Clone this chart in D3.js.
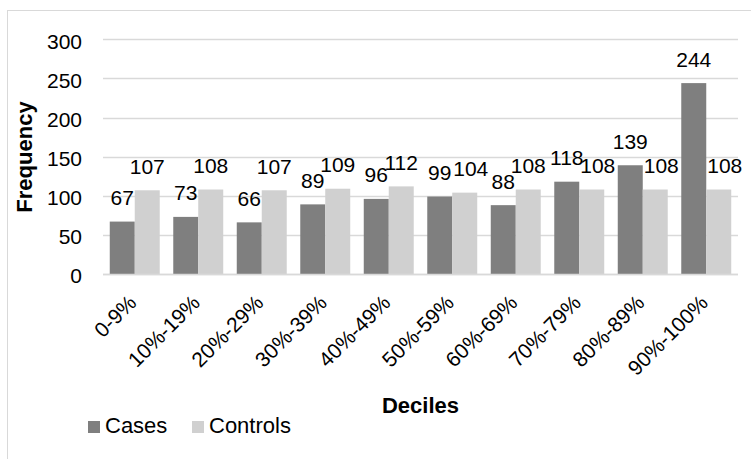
<!DOCTYPE html>
<html>
<head>
<meta charset="utf-8">
<script src="https://cdn.jsdelivr.net/npm/d3@7"></script>
<style>
	body { margin: 0; background: #fff; }
	svg text { font-family: "Liberation Sans", Arial, sans-serif; fill: #000; }
</style>
</head>
<body>
<svg id="chart" width="751" height="459"></svg>
<script>
var deciles = ["0-9%", "10%-19%", "20%-29%", "30%-39%", "40%-49%", "50%-59%", "60%-69%", "70%-79%", "80%-89%", "90%-100%"];
var cases = [67, 73, 66, 89, 96, 99, 88, 118, 139, 244];
var controls = [107, 108, 107, 109, 112, 104, 108, 108, 108, 108];
var seriesNames = ["Cases", "Controls"];
var yTicks = [0, 50, 100, 150, 200, 250, 300];

var colors = { Cases: "#7f7f7f", Controls: "#d0d0d0" };

var svg = d3.select("#chart");

// outer chart border (runs off the right and bottom edges)
svg.append("rect")
	.attr("x", 7.5).attr("y", 10.5)
	.attr("width", 780).attr("height", 480)
	.style("fill", "#fff")
	.style("stroke", "#d9d9d9")
	.style("stroke-width", 1);

var plotLeft = 103, plotRight = 738, plotTop = 39.3, plotBottom = 274;

var x = d3.scaleBand().domain(deciles).range([plotLeft, plotRight]).paddingInner(0.213).paddingOuter(0.1065);
var inner = d3.scaleBand().domain(seriesNames).range([0, x.bandwidth()]);
var y = d3.scaleLinear().domain([0, 300]).range([plotBottom, plotTop]);

// gridlines
svg.append("g").selectAll("line")
	.data(yTicks)
	.enter()
	.append("line")
	.attr("x1", plotLeft).attr("x2", plotRight)
	.attr("y1", d => Math.round(y(d)) + 0.5).attr("y2", d => Math.round(y(d)) + 0.5)
	.style("stroke", "#d9d9d9")
	.style("stroke-width", 1.5);

// y axis labels
var yAxis = d3.axisLeft(y).tickValues(yTicks).tickSize(0).tickPadding(0);
var gy = svg.append("g").attr("transform", `translate(${ 82 },0)`).call(yAxis);
gy.select(".domain").remove();
gy.selectAll("text")
	.attr("dy", "0.42em")
	.style("font-size", "21px")
	.style("font-family", "Liberation Sans, Arial, sans-serif")
	.style("fill", "#000");

// bars
var rows = deciles.map((d, i) => ({ decile: d, Cases: cases[i], Controls: controls[i] }));

var groups = svg.append("g").selectAll(".grp")
	.data(rows)
	.enter()
	.append("g")
	.attr("transform", d => `translate(${ x(d.decile) },0)`);

groups.selectAll("rect")
	.data(d => seriesNames.map(s => ({ key: s, value: d[s] })))
	.enter()
	.append("rect")
	.attr("x", d => inner(d.key))
	.attr("y", d => y(d.value))
	.attr("width", inner.bandwidth())
	.attr("height", d => plotBottom - y(d.value))
	.style("fill", d => colors[d.key]);

// data labels, controls label nudged right when the cases label sits at about the same height
groups.selectAll(".lbl")
	.data(d => seriesNames.map(s => ({ key: s, value: d[s], other: s === "Controls" ? d.Cases : null })))
	.enter()
	.append("text")
	.attr("x", d => inner(d.key) + inner.bandwidth() / 2 + (d.other !== null && d.other >= d.value - 6 ? 6 : 0))
	.attr("y", d => y(d.value) - 16.5)
	.style("text-anchor", "middle")
	.style("font-size", "21px")
	.text(d => d.value);

// x axis baseline
svg.append("line")
	.attr("x1", plotLeft).attr("x2", plotRight)
	.attr("y1", plotBottom + 0.5).attr("y2", plotBottom + 0.5)
	.style("stroke", "#d9d9d9")
	.style("stroke-width", 1.5);

// x tick labels
var xAxis = d3.axisBottom(x).tickSize(0).tickPadding(0);
var gx = svg.append("g").attr("transform", `translate(0,${ plotBottom })`).call(xAxis);
gx.select(".domain").remove();
gx.selectAll("text")
	.attr("dy", null)
	.attr("y", 0)
	.attr("transform", "translate(3,30) rotate(-45)")
	.style("text-anchor", "end")
	.style("font-size", "21px")
	.style("font-family", "Liberation Sans, Arial, sans-serif")
	.style("fill", "#000");

// axis titles
svg.append("text").text("Deciles")
	.attr("x", (plotLeft + plotRight) / 2).attr("y", 413)
	.style("text-anchor", "middle")
	.style("font-size", "22px")
	.style("font-weight", 700);

svg.append("text").text("Frequency")
	.attr("transform", `translate(32,157) rotate(-90)`)
	.style("text-anchor", "middle")
	.style("font-size", "22px")
	.style("font-weight", 700);

// legend
var legend = svg.append("g").attr("transform", "translate(88,421)");
var legendX = { Cases: 0, Controls: 104 };
var li = legend.selectAll(".item")
	.data(seriesNames)
	.enter()
	.append("g")
	.attr("transform", d => `translate(${ legendX[d] },0)`);
li.append("rect")
	.attr("width", 12).attr("height", 12)
	.style("fill", d => colors[d]);
li.append("text")
	.attr("x", 17).attr("y", 12)
	.style("font-size", "22px")
	.text(d => d);
</script>
</body>
</html>
